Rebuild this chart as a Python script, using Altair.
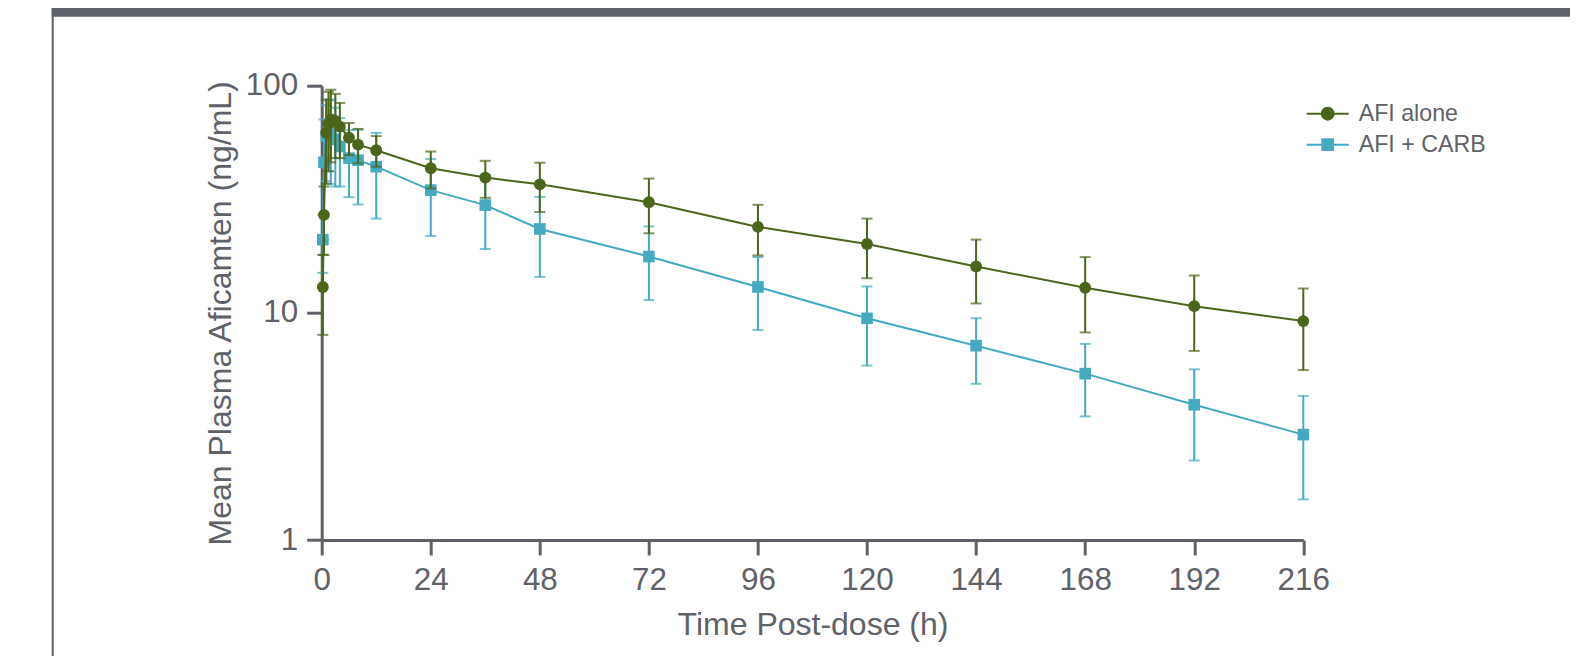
import altair as alt
import pandas as pd

# ---- data ----
time_h = [0.25, 0.5, 1, 1.5, 2, 3, 4, 6, 8, 12, 24, 36, 48, 72, 96, 120, 144, 168, 192, 216]

afi_alone_mean = [13, 27, 62, 68, 71, 70, 66, 59, 55, 52, 43.3, 39.4, 36.8, 30.7, 23.9, 20.1, 16.0, 12.9, 10.7, 9.2]
afi_alone_sd = [5, 9, 25, 26, 25, 22, 18, 9.5, 9.5, 8, 8.0, 7.3, 9.0, 8.3, 6.0, 5.9, 5.0, 4.7, 3.9, 3.6]

afi_carb_mean = [21, 46, 60, 64, 62, 58, 54, 48, 47, 44, 34.7, 29.8, 23.4, 17.7, 13.0, 9.46, 7.17, 5.40, 3.94, 2.91]
afi_carb_sd = [6, 25, 22, 22, 25, 22, 18, 15.7, 17, 18, 12.9, 10.7, 9.0, 6.3, 4.6, 3.6, 2.3, 1.9, 1.7, 1.4]

series_names = ["AFI alone", "AFI + CARB"]
series_colors = ["#4b651b", "#45a9c2"]
x_ticks = [0, 24, 48, 72, 96, 120, 144, 168, 192, 216]
y_ticks = [1, 10, 100]

TEXT = "#5f6168"
FONT = "Liberation Sans"


def make_df(name, mean, sd):
    df = pd.DataFrame({"time": time_h, "mean": mean, "sd": sd})
    df["lo"] = df["mean"] - df["sd"]
    df["hi"] = df["mean"] + df["sd"]
    df["series"] = name
    return df


df_alone = make_df(series_names[0], afi_alone_mean, afi_alone_sd)
df_carb = make_df(series_names[1], afi_carb_mean, afi_carb_sd)

x_enc = alt.X(
    "time:Q",
    scale=alt.Scale(domain=[0, 216], nice=False),
    axis=alt.Axis(values=x_ticks, title="Time Post-dose (h)", labelFlush=False),
)
y_scale = alt.Scale(type="log", domain=[1, 100], nice=False)
y_axis = alt.Axis(values=y_ticks, format="d", title="Mean Plasma Aficamten (ng/mL)", labelFlush=False)


def series_layers(df, color, shape, size):
    base = alt.Chart(df)
    rule = base.mark_rule(color=color, strokeWidth=2).encode(
        x=x_enc, y=alt.Y("lo:Q", scale=y_scale, axis=y_axis), y2="hi:Q"
    )
    cap_lo = base.mark_tick(color=color, orient="horizontal", size=11, thickness=2).encode(
        x="time:Q", y=alt.Y("lo:Q", scale=y_scale)
    )
    cap_hi = base.mark_tick(color=color, orient="horizontal", size=11, thickness=2).encode(
        x="time:Q", y=alt.Y("hi:Q", scale=y_scale)
    )
    line = base.mark_line(color=color, strokeWidth=2).encode(
        x="time:Q", y=alt.Y("mean:Q", scale=y_scale), order="time:Q"
    )
    pts = base.mark_point(color=color, filled=True, opacity=1, shape=shape, size=size).encode(
        x="time:Q", y=alt.Y("mean:Q", scale=y_scale)
    )
    return [rule, cap_lo, cap_hi, line, pts]


# legend via an empty layer with line+marker symbol paths
circle_path = "M-1.17,0L1.17,0M0.33,0A0.33,0.33,0,1,1,-0.33,0A0.33,0.33,0,1,1,0.33,0Z"
square_path = "M-1.17,0L1.17,0M-0.3,-0.3L0.3,-0.3L0.3,0.3L-0.3,0.3Z"
leg = alt.Legend(
    title=None, orient="none", legendX=987, legendY=9,
    symbolSize=1296, symbolStrokeWidth=2, labelFontSize=23.2, labelFont=FONT,
    labelColor=TEXT, labelOffset=12, rowPadding=0, padding=0,
)
legend_layer = (
    alt.Chart(pd.concat([df_alone, df_carb]))
    .transform_filter("false")
    .mark_point(filled=True, strokeWidth=2, opacity=1)
    .encode(
        x="time:Q",
        y=alt.Y("mean:Q", scale=y_scale),
        color=alt.Color("series:N", scale=alt.Scale(domain=series_names, range=series_colors), legend=leg),
        stroke=alt.Stroke("series:N", scale=alt.Scale(domain=series_names, range=series_colors), legend=leg),
        shape=alt.Shape("series:N", scale=alt.Scale(domain=series_names, range=[circle_path, square_path]), legend=leg),
    )
)

# decorative page frame (top band + left rule) seen in the reference
frame_src = alt.Chart(pd.DataFrame({"k": [0]}))
band = frame_src.mark_rect(color="#5f626b").encode(
    x=alt.value(-270), x2=alt.value(1260), y=alt.value(-80), y2=alt.value(-69)
)
left_rule = frame_src.mark_rule(color="#5f626b", strokeWidth=2).encode(
    x=alt.value(-269), y=alt.value(-80), y2=alt.value(600)
)

layers = [band, left_rule] + series_layers(df_carb, series_colors[1], "square", 135) + \
    series_layers(df_alone, series_colors[0], "circle", 140) + [legend_layer]

chart = (
    alt.layer(*layers)
    .properties(
        width=981.6,
        height=454.3,
        autosize=alt.AutoSizeParams(type="none"),
        padding={"left": 313.7, "top": 77.7, "right": 266.7, "bottom": 116},
        background="white",
    )
    .configure_view(stroke=None)
    .configure_axis(
        grid=False,
        domainColor=TEXT,
        domainWidth=3,
        tickColor=TEXT,
        tickWidth=3,
        tickSize=15,
        labelFont=FONT,
        labelFontSize=31.4,
        labelColor=TEXT,
        labelPadding=9,
        titleFont=FONT,
        titleFontSize=32,
        titleFontWeight="normal",
        titleColor=TEXT,
    )
    .configure_axisX(titlePadding=14)
    .configure_axisY(titlePadding=8)
)

chart.save("out.html", embed_options={"renderer": "svg", "actions": False})
